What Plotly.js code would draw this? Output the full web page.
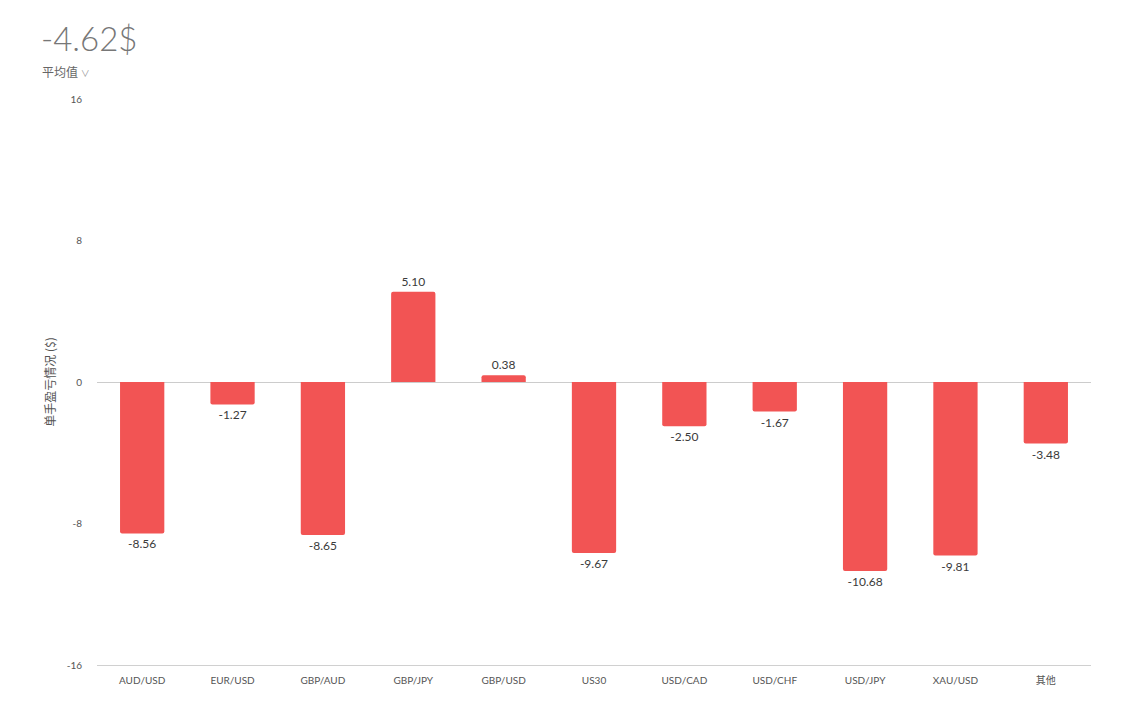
<!DOCTYPE html>
<html>
<head>
<meta charset="utf-8">
<script src="https://cdn.plot.ly/plotly-3.0.1.min.js"></script>
<style>html,body{margin:0;padding:0;background:#fff;}#chart{width:1125px;height:715px;}</style>
</head>
<body>
<div id="chart"></div>
<script>
const categories = ["AUD/USD","EUR/USD","GBP/AUD","GBP/JPY","GBP/USD","US30","USD/CAD","USD/CHF","USD/JPY","XAU/USD","其他"];
const values = [-8.56,-1.27,-8.65,5.10,0.38,-9.67,-2.50,-1.67,-10.68,-9.81,-3.48];
const yTicks = [-16,-8,0,8,16];
const headline = "-4.62$";
const subLabel = "平均值";
const yTitle = "单手盈亏情况 ($)";

const trace = {
  type: "bar",
  x: categories,
  y: values,
  marker: {color: "#f25454", cornerradius: 2},
  text: values.map(v => v.toFixed(2)),
  textposition: "outside",
  textfont: {family: "Lato, 'Noto Sans', sans-serif", size: 12, color: "#3a3a3a"},
  cliponaxis: false,
  hoverinfo: "x+y"
};

const layout = {
  width: 1125, height: 715,
  margin: {l: 97, r: 34, t: 99, b: 50},
  paper_bgcolor: "#fff", plot_bgcolor: "#fff",
  bargap: 0.51,
  showlegend: false,
  font: {family: "Lato, 'Noto Sans CJK SC', sans-serif", color: "#555"},
  xaxis: {
    type: "category",
    showline: true, linecolor: "#d0d0d0", linewidth: 1,
    showgrid: false, ticks: "",
    ticklabelstandoff: 6,
    tickfont: {size: 10, color: "#555", family: "Lato, 'Noto Sans CJK SC', sans-serif"},
    fixedrange: true
  },
  yaxis: {
    range: [-16, 16],
    tickvals: yTicks,
    ticktext: yTicks.map(String),
    showgrid: false,
    zeroline: true, zerolinecolor: "#cccccc", zerolinewidth: 1,
    showline: false, ticks: "",
    ticklabelstandoff: 14,
    tickfont: {size: 10, color: "#555"},
    title: {text: yTitle, font: {size: 12, color: "#555", family: "'Noto Sans CJK SC', sans-serif"}, standoff: 8},
    fixedrange: true
  },
  annotations: [
    {text: headline, xref: "paper", yref: "paper", x: -97/994, y: 1 + (99-38)/566, xanchor: "left", yanchor: "middle", showarrow: false,
     font: {size: 33, color: "#777", family: "Lato, sans-serif", weight: 300}, xshift: 39},
    {text: subLabel + " <span style='font-size:9px;color:#999'>∨</span>", xref: "paper", yref: "paper", x: -97/994, y: 1 + (99-71)/566, xanchor: "left", yanchor: "middle", showarrow: false,
     font: {size: 12, color: "#666", family: "'Noto Sans CJK SC', sans-serif"}, xshift: 40}
  ]
};

Plotly.newPlot("chart", [trace], layout, {displayModeBar: false, responsive: false});
</script>
</body>
</html>
